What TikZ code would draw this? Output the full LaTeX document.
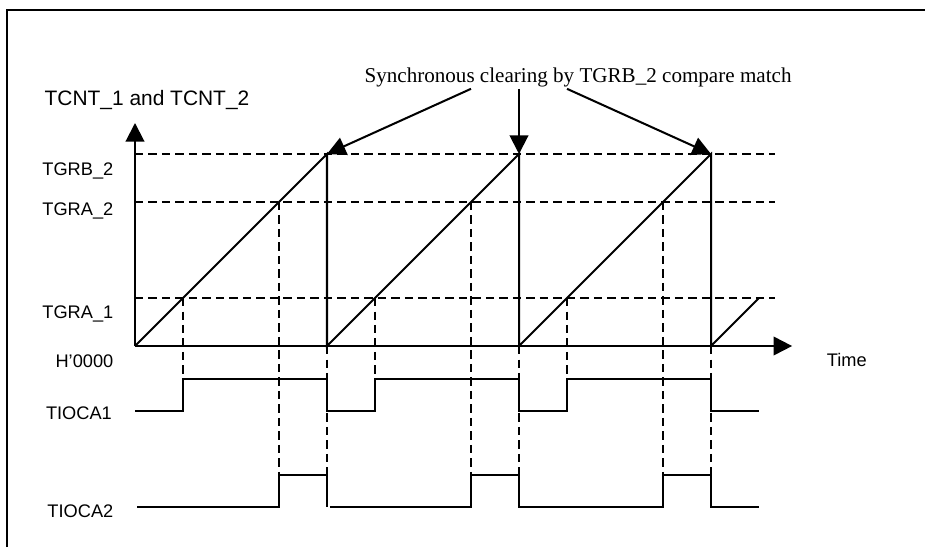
\documentclass[tikz,border=0pt]{standalone}
\usepackage{fontspec}
\setmainfont{Liberation Serif}
\setsansfont{Liberation Sans}
\usetikzlibrary{arrows.meta}

\begin{document}
\begin{tikzpicture}[x=1cm,y=1cm]
    \tikzset{
        solidstyle/.style={line width=1.2pt},
        guidestyle/.style={dash pattern=on 5pt off 3pt, line width=1.2pt},
        axisstyle/.style={line width=1.2pt, -{Triangle[length=11pt,width=11pt]}},
        labelstyle/.style={font=\sffamily\fontsize{10.8}{12}\selectfont, inner sep=1pt},
        notestyle/.style={font=\rmfamily\fontsize{12.5}{14}\selectfont, inner sep=1pt}
    }

    \useasboundingbox (-2.8125,-4.1875) rectangle (16.458,7.2083);
    \draw[solidstyle] (-2.667,-4.1875) -- (-2.667,7) -- (16.458,7);

    % axes
    \coordinate (orig) at (0,0);
    \draw[axisstyle] (orig) -- (0,4.646);
    \draw[axisstyle] (orig) -- (13.69,0);
    \node[labelstyle, font=\sffamily\fontsize{12.4}{14}\selectfont] (tcnt) at (0.25,5.12) {TCNT\_1 and TCNT\_2};
    \node[labelstyle] (time) at (14.83,-0.29) {Time};

    % compare levels
    \draw[guidestyle] (0,4) -- (13.33,4);
    \draw[guidestyle] (0,3) -- (13.33,3);
    \draw[guidestyle] (0,1) -- (13.33,1);
    \node[labelstyle, anchor=east] (tgrb2) at (-0.41,3.65) {TGRB\_2};
    \node[labelstyle, anchor=east] (tgra2) at (-0.41,2.81) {TGRA\_2};
    \node[labelstyle, anchor=east] (tgra1) at (-0.41,0.67) {TGRA\_1};
    \node[labelstyle, anchor=east] (h0000) at (-0.41,-0.31) {H’0000};

    % counter
    \coordinate (clr1) at (4,4);
    \coordinate (clr2) at (8,4);
    \coordinate (clr3) at (12,4);
    \draw[solidstyle] (orig) -- (clr1) -- (4,0) -- (clr2) -- (8,0) -- (clr3) -- (12,0) -- (13,1);

    % guides down to the outputs
    \draw[guidestyle] (1,1) -- (1,-0.69);
    \draw[guidestyle] (3,3) -- (3,-2.69);
    \draw[guidestyle] (4,0) -- (4,-2.69);
    \draw[guidestyle] (5,1) -- (5,-0.69);
    \draw[guidestyle] (7,3) -- (7,-2.69);
    \draw[guidestyle] (8,0) -- (8,-2.69);
    \draw[guidestyle] (9,1) -- (9,-0.69);
    \draw[guidestyle] (11,3) -- (11,-2.69);
    \draw[guidestyle] (12,0) -- (12,-2.69);

    % outputs
    \node[labelstyle, anchor=east] (tioca1) at (-0.44,-1.40) {TIOCA1};
    \draw[solidstyle] (0,-1.35) -- (1,-1.35) -- (1,-0.69) -- (4,-0.69) -- (4,-1.35)
        -- (5,-1.35) -- (5,-0.69) -- (8,-0.69) -- (8,-1.35) -- (9,-1.35) -- (9,-0.69)
        -- (12,-0.69) -- (12,-1.35) -- (13,-1.35);
    \node[labelstyle, anchor=east] (tioca2) at (-0.41,-3.44) {TIOCA2};
    \draw[solidstyle] (0.05,-3.35) -- (3,-3.35) -- (3,-2.69) -- (4,-2.69) -- (4,-3.35);
    \draw[solidstyle] (4.06,-3.35) -- (7,-3.35) -- (7,-2.69) -- (8,-2.69) -- (8,-3.35)
        -- (11,-3.35) -- (11,-2.69) -- (12,-2.69) -- (12,-3.35) -- (13,-3.35);

    % clearing note
    \node[notestyle] (sync) at (9.23,5.6) {Synchronous clearing by TGRB\_2 compare match};
    \draw[axisstyle] (sync.south -| 7,0) -- (clr1);
    \draw[axisstyle] (sync.south -| 8,0) -- (clr2);
    \draw[axisstyle] (sync.south -| 9,0) -- (clr3);

\end{tikzpicture}
\end{document}
